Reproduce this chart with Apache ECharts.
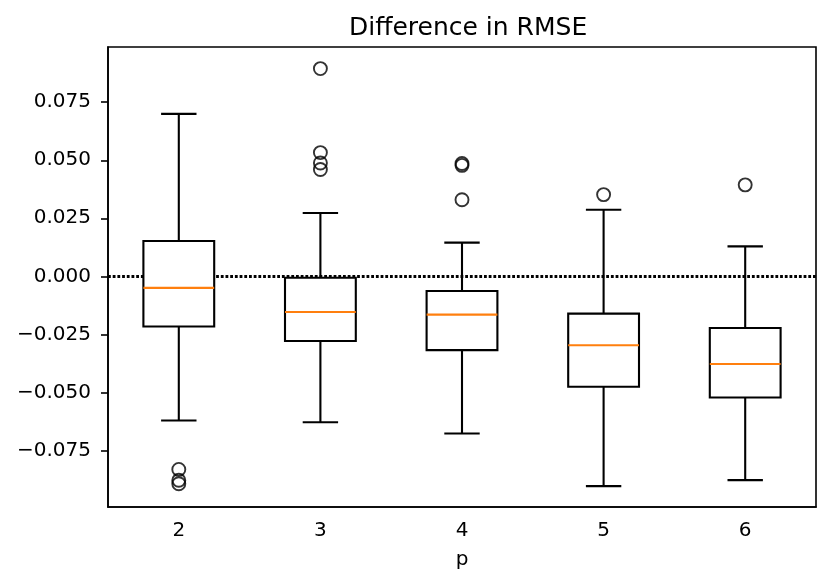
<!DOCTYPE html>
<html>
<head>
<meta charset="utf-8">
<script src="https://cdn.jsdelivr.net/npm/echarts@6/dist/echarts.min.js"></script>
<style>
  html, body { margin: 0; padding: 0; background: #fff; }
  #main { width: 831px; height: 586px; }
</style>
</head>
<body>
<div id="main"></div>
<script>
// categories (p)
var categories = ['2', '3', '4', '5', '6'];
// box stats per category: whisker low, q1, median, q3, whisker high
var whiskerLow  = [-0.0621, -0.0629, -0.0677, -0.0904, -0.0878];
var q1          = [-0.0216, -0.0279, -0.0318, -0.0476, -0.0522];
var median      = [-0.0050, -0.0154, -0.0165, -0.0297, -0.0378];
var q3          = [ 0.0152, -0.0006, -0.0063, -0.0161, -0.0223];
var whiskerHigh = [ 0.0700,  0.0273,  0.0145,  0.0287,  0.0129];
// fliers
var outliers = [
  ['2', -0.0832], ['2', -0.0879], ['2', -0.0894],
  ['3', 0.0895], ['3', 0.0533], ['3', 0.0488], ['3', 0.0460],
  ['4', 0.0486], ['4', 0.0478], ['4', 0.0330],
  ['5', 0.0352],
  ['6', 0.0394]
];
// y tick labels
var yTicks = [-0.075, -0.050, -0.025, 0.000, 0.025, 0.050, 0.075];

var boxData = categories.map(function (c, i) {
  return [i, whiskerLow[i], q1[i], median[i], q3[i], whiskerHigh[i]];
});

function renderBox(params, api) {
  var i = api.value(0);
  var x = api.coord([i, 0])[0];
  var bw = api.size([1, 0])[0] * 0.5;
  var cw = bw * 0.5;
  var yLo = api.coord([i, api.value(1)])[1];
  var yQ1 = api.coord([i, api.value(2)])[1];
  var yMed = api.coord([i, api.value(3)])[1];
  var yQ3 = api.coord([i, api.value(4)])[1];
  var yHi = api.coord([i, api.value(5)])[1];
  var ls = { stroke: '#000', lineWidth: 2.1, fill: null };
  return {
    type: 'group',
    children: [
      { type: 'line', shape: { x1: x, y1: yQ1, x2: x, y2: yLo }, style: ls },
      { type: 'line', shape: { x1: x, y1: yQ3, x2: x, y2: yHi }, style: ls },
      { type: 'line', shape: { x1: x - cw / 2, y1: yLo, x2: x + cw / 2, y2: yLo }, style: ls },
      { type: 'line', shape: { x1: x - cw / 2, y1: yHi, x2: x + cw / 2, y2: yHi }, style: ls },
      { type: 'rect', shape: { x: x - bw / 2, y: yQ3, width: bw, height: yQ1 - yQ3 },
        style: { stroke: '#000', lineWidth: 2.1, fill: '#fff' } },
      { type: 'line', shape: { x1: x - bw / 2, y1: yMed, x2: x + bw / 2, y2: yMed },
        style: { stroke: '#ff7f0e', lineWidth: 2.1 } }
    ]
  };
}

var chart = echarts.init(document.getElementById('main'));
chart.setOption({
  animation: false,
  backgroundColor: '#fff',
  textStyle: { fontFamily: 'DejaVu Sans' },
  title: {
    text: 'Difference in RMSE',
    left: 344,
    top: 11,
    textStyle: { fontFamily: 'DejaVu Sans', fontSize: 25, fontWeight: 'normal', color: '#000' }
  },
  grid: {
    left: 108, right: 15, top: 47, bottom: 79,
    show: true, borderColor: '#000', borderWidth: 1.6, backgroundColor: 'transparent'
  },
  xAxis: {
    type: 'category',
    data: categories,
    boundaryGap: true,
    name: 'p',
    nameLocation: 'middle',
    nameGap: 43,
    nameTextStyle: { fontFamily: 'DejaVu Sans', fontSize: 20, color: '#000' },
    axisLine: { onZero: false, lineStyle: { color: '#000', width: 1.6 } },
    axisTick: { alignWithLabel: true, length: 7, lineStyle: { color: '#000', width: 1.6 } },
    axisLabel: { margin: 14, fontSize: 20, color: '#000', fontFamily: 'DejaVu Sans' },
    splitLine: { show: false }
  },
  yAxis: {
    type: 'value',
    min: -0.0994,
    max: 0.0988,
    axisLine: { show: true, onZero: false, lineStyle: { color: '#000', width: 1.6 } },
    axisTick: { show: true, length: 7, customValues: yTicks, lineStyle: { color: '#000', width: 1.6 } },
    axisLabel: {
      customValues: yTicks,
      margin: 17, fontSize: 20, color: '#000', fontFamily: 'DejaVu Sans',
      formatter: function (v) { return v.toFixed(3).replace('-', '\u2212'); }
    },
    splitLine: { show: false }
  },
  series: [
    {
      type: 'line',
      data: [],
      z: 1,
      markLine: {
        z: 1,
        silent: true,
        symbol: 'none',
        label: { show: false },
        lineStyle: { color: '#000', width: 2.8, type: [2.8, 1.9] },
        data: [{ yAxis: 0 }]
      }
    },
    {
      type: 'custom',
      z: 6,
      renderItem: renderBox,
      encode: { x: 0, y: [1, 2, 3, 4, 5] },
      data: boxData
    },
    {
      type: 'scatter',
      z: 7,
      symbol: 'circle',
      symbolSize: 13,
      itemStyle: { color: 'transparent', borderColor: '#000', borderWidth: 1.9 },
      data: outliers
    }
  ]
});
</script>
</body>
</html>
